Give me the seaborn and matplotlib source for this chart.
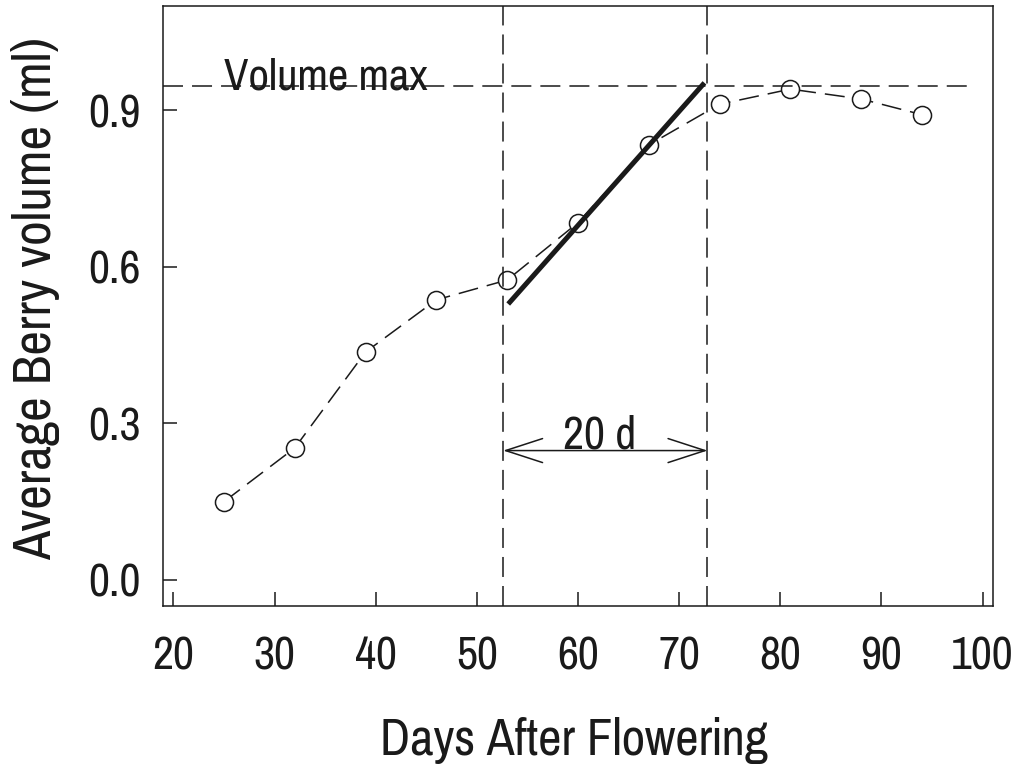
import matplotlib
matplotlib.use("Agg")
import matplotlib.pyplot as plt
import seaborn as sns
import pandas as pd
from matplotlib.patches import FancyArrowPatch, ArrowStyle

# ---- data ----
days = [25, 32, 39, 46, 53, 60, 67, 74, 81, 88, 94]
volume = [0.150, 0.253, 0.437, 0.537, 0.575, 0.685, 0.834, 0.912, 0.941, 0.922, 0.892]

xticks = [20, 30, 40, 50, 60, 70, 80, 90, 100]
yticks = [0.0, 0.3, 0.6, 0.9]
ytick_labels = ["0.0", "0.3", "0.6", "0.9"]

vol_max = 0.946
onset_day = 52.6
end_day = 72.8
slope_x = [53.1, 72.5]
slope_y = [0.529, 0.953]
arrow_y = 0.248

sns.set_theme(style="white")
plt.rcParams["font.family"] = ["Pragati Narrow", "Roboto Condensed", "DejaVu Sans"]
plt.rcParams["lines.scale_dashes"] = False

INK = "#1a1a1a"
DASH = [14.4, 6.5]

fig = plt.figure(figsize=(10.16, 7.71), dpi=100)
ax = fig.add_axes([0.1607, 0.214, 0.8164, 0.778])

df = pd.DataFrame({"Days": days, "Volume": volume})
sns.lineplot(data=df, x="Days", y="Volume", ax=ax, color=INK, lw=1.1,
             marker="o", markersize=13, markerfacecolor="white",
             markeredgecolor=INK, markeredgewidth=1.1, zorder=3)
ax.lines[-1].set_dashes(DASH)

# reference lines
for xv in (onset_day, end_day):
    l = ax.axvline(xv, color=INK, lw=1.1, zorder=4)
    l.set_dashes(DASH)
h = ax.hlines(vol_max, 19.0, 99.0, color=INK, lw=1.1, zorder=4)
h.set_linestyle((0, DASH))

ax.plot(slope_x, slope_y, color=INK, lw=3.6, solid_capstyle="butt", zorder=5)

arr = FancyArrowPatch((onset_day, arrow_y), (end_day, arrow_y),
                      arrowstyle=ArrowStyle("<->", head_length=0.4, head_width=0.13),
                      mutation_scale=66.5, lw=1.1, color=INK,
                      shrinkA=0, shrinkB=0, zorder=5)
ax.add_patch(arr)

ax.text(25.0, 0.94, "Volume max", fontsize=35, color=INK, ha="left", va="baseline", zorder=6)
ax.text(62.1, 0.2525, "20 d", fontsize=36, color=INK, ha="center", va="baseline", zorder=6)

ax.set_xlim(19.0, 101.0)
ax.set_ylim(-0.05, 1.10)
ax.set_xticks(xticks)
ax.set_xticklabels([str(t) for t in xticks])
ax.set_yticks(yticks)
ax.set_yticklabels(ytick_labels)
ax.tick_params(axis="both", direction="in", length=10, width=1.1, color=INK,
               labelsize=36, labelcolor=INK, bottom=True, left=True, top=False, right=False)
ax.tick_params(axis="x", pad=21)
ax.tick_params(axis="y", pad=16)
ax.grid(False)
for s in ax.spines.values():
    s.set_visible(True)
    s.set_color(INK)
    s.set_linewidth(1.1)

ax.set_xlabel("Days After Flowering", fontsize=40, color=INK)
ax.set_ylabel("Average Berry volume (ml)", fontsize=42, color=INK)
ax.xaxis.label.set_va("baseline")
ax.xaxis.set_label_coords(0.495, -0.248)
ax.yaxis.label.set_va("baseline")
ax.yaxis.set_label_coords(-0.1358, 0.512)

fig.savefig("out.png", dpi=100)
